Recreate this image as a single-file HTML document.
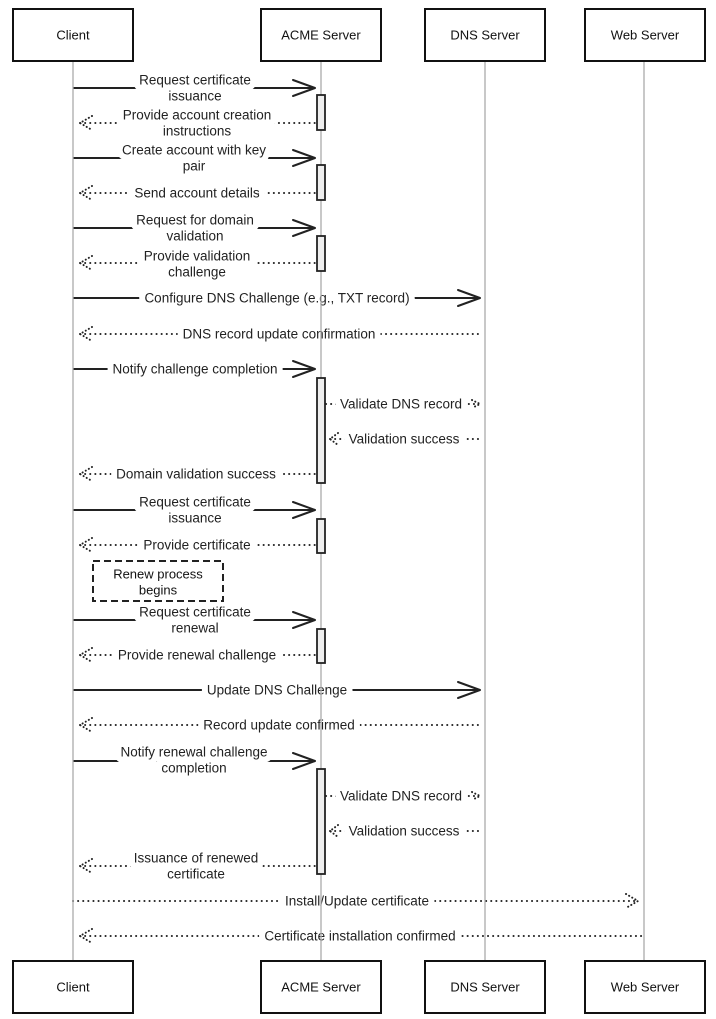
<!DOCTYPE html>
<html><head><meta charset="utf-8"><style>
html,body{margin:0;padding:0;background:#fff;}
svg{display:block}
.l{font-family:"Liberation Sans",sans-serif;font-size:13.5px;fill:#222;stroke:#fff;stroke-width:12;paint-order:stroke;stroke-linejoin:round;text-anchor:middle;dominant-baseline:central}
.a{font-family:"Liberation Sans",sans-serif;font-size:13px;fill:#111;text-anchor:middle;dominant-baseline:central}
.s{stroke:#222;stroke-width:2;fill:none}
.d{stroke:#222;stroke-width:2;fill:none;stroke-dasharray:0.1 5;stroke-linecap:round}
.h{stroke:#222;stroke-width:2;fill:none;stroke-linecap:round;stroke-linejoin:round}
.hd{stroke:#222;stroke-width:2;fill:none;stroke-dasharray:0.1 3.5;stroke-linecap:round}
.ll{stroke:#aaa;stroke-width:1.3}
.act{fill:#eee;stroke:#222;stroke-width:1.8}
.box{fill:#fff;stroke:#111;stroke-width:2}
</style></head><body>
<svg width="716" height="1019" viewBox="0 0 716 1019" xmlns="http://www.w3.org/2000/svg">
<g>
<line class="s" x1="73" y1="88" x2="315" y2="88"/><path class="h" d="M293 80 L315 88 L293 96"/>
<line class="d" x1="80" y1="123" x2="316" y2="123"/><path class="hd" d="M92 116 L80 123 L92 130"/>
<line class="s" x1="73" y1="158" x2="315" y2="158"/><path class="h" d="M293 150 L315 158 L293 166"/>
<line class="d" x1="80" y1="193" x2="316" y2="193"/><path class="hd" d="M92 186 L80 193 L92 200"/>
<line class="s" x1="73" y1="228" x2="315" y2="228"/><path class="h" d="M293 220 L315 228 L293 236"/>
<line class="d" x1="80" y1="263" x2="316" y2="263"/><path class="hd" d="M92 256 L80 263 L92 270"/>
<line class="s" x1="73" y1="298" x2="480" y2="298"/><path class="h" d="M458 290 L480 298 L458 306"/>
<line class="d" x1="80" y1="334" x2="482" y2="334"/><path class="hd" d="M92 327 L80 334 L92 341"/>
<line class="s" x1="73" y1="369" x2="315" y2="369"/><path class="h" d="M293 361 L315 369 L293 377"/>
<line class="d" x1="326" y1="404" x2="478" y2="404"/><path class="hd" d="M472 400 L480 404 L472 408"/>
<line class="d" x1="330" y1="439" x2="482" y2="439"/><path class="hd" d="M338 433 L330 439 L338 445"/>
<line class="d" x1="80" y1="474" x2="316" y2="474"/><path class="hd" d="M92 467 L80 474 L92 481"/>
<line class="s" x1="73" y1="510" x2="315" y2="510"/><path class="h" d="M293 502 L315 510 L293 518"/>
<line class="d" x1="80" y1="545" x2="316" y2="545"/><path class="hd" d="M92 538 L80 545 L92 552"/>
<line class="s" x1="73" y1="620" x2="315" y2="620"/><path class="h" d="M293 612 L315 620 L293 628"/>
<line class="d" x1="80" y1="655" x2="316" y2="655"/><path class="hd" d="M92 648 L80 655 L92 662"/>
<line class="s" x1="73" y1="690" x2="480" y2="690"/><path class="h" d="M458 682 L480 690 L458 698"/>
<line class="d" x1="80" y1="725" x2="482" y2="725"/><path class="hd" d="M92 718 L80 725 L92 732"/>
<line class="s" x1="73" y1="761" x2="315" y2="761"/><path class="h" d="M293 753 L315 761 L293 769"/>
<line class="d" x1="326" y1="796" x2="478" y2="796"/><path class="hd" d="M472 792 L480 796 L472 800"/>
<line class="d" x1="330" y1="831" x2="482" y2="831"/><path class="hd" d="M338 825 L330 831 L338 837"/>
<line class="d" x1="80" y1="866" x2="316" y2="866"/><path class="hd" d="M92 859 L80 866 L92 873"/>
<line class="d" x1="73" y1="901" x2="638" y2="901"/><path class="hd" d="M626 894 L638 901 L626 908"/>
<line class="d" x1="80" y1="936" x2="644" y2="936"/><path class="hd" d="M92 929 L80 936 L92 943"/>
</g>
<g>
<text class="l" x="195" y="80">Request certificate</text><text class="l" x="195" y="96">issuance</text>
<text class="l" x="197" y="115">Provide account creation</text><text class="l" x="197" y="131">instructions</text>
<text class="l" x="194" y="150">Create account with key</text><text class="l" x="194" y="166">pair</text>
<text class="l" x="197" y="193">Send account details</text>
<text class="l" x="195" y="220">Request for domain</text><text class="l" x="195" y="236">validation</text>
<text class="l" x="197" y="256">Provide validation</text><text class="l" x="197" y="272">challenge</text>
<text class="l" x="277" y="298">Configure DNS Challenge (e.g., TXT record)</text>
<text class="l" x="279" y="334">DNS record update confirmation</text>
<text class="l" x="195" y="369">Notify challenge completion</text>
<text class="l" x="401" y="404">Validate DNS record</text>
<text class="l" x="404" y="439">Validation success</text>
<text class="l" x="196" y="474">Domain validation success</text>
<text class="l" x="195" y="502">Request certificate</text><text class="l" x="195" y="518">issuance</text>
<text class="l" x="197" y="545">Provide certificate</text>
<text class="l" x="195" y="612">Request certificate</text><text class="l" x="195" y="628">renewal</text>
<text class="l" x="197" y="655">Provide renewal challenge</text>
<text class="l" x="277" y="690">Update DNS Challenge</text>
<text class="l" x="279" y="725">Record update confirmed</text>
<text class="l" x="194" y="752">Notify renewal challenge</text><text class="l" x="194" y="768">completion</text>
<text class="l" x="401" y="796">Validate DNS record</text>
<text class="l" x="404" y="831">Validation success</text>
<text class="l" x="196" y="858">Issuance of renewed</text><text class="l" x="196" y="874">certificate</text>
<text class="l" x="357" y="901">Install/Update certificate</text>
<text class="l" x="360" y="936">Certificate installation confirmed</text>
</g>
<line class="ll" x1="73" y1="61" x2="73" y2="961"/>
<line class="ll" x1="321" y1="61" x2="321" y2="961"/>
<line class="ll" x1="485" y1="61" x2="485" y2="961"/>
<line class="ll" x1="644" y1="61" x2="644" y2="961"/>
<rect class="act" x="317" y="95" width="8" height="35"/>
<rect class="act" x="317" y="165" width="8" height="35"/>
<rect class="act" x="317" y="236" width="8" height="35"/>
<rect class="act" x="317" y="378" width="8" height="105"/>
<rect class="act" x="317" y="519" width="8" height="34"/>
<rect class="act" x="317" y="629" width="8" height="34"/>
<rect class="act" x="317" y="769" width="8" height="105"/>
<rect x="93" y="561" width="130" height="40" fill="#fff" stroke="#222" stroke-width="2" stroke-dasharray="7 4"/>
<text class="a" x="158" y="574">Renew process</text><text class="a" x="158" y="590">begins</text>
<rect class="box" x="13" y="9" width="120" height="52"/><text class="a" x="73" y="35">Client</text>
<rect class="box" x="261" y="9" width="120" height="52"/><text class="a" x="321" y="35">ACME Server</text>
<rect class="box" x="425" y="9" width="120" height="52"/><text class="a" x="485" y="35">DNS Server</text>
<rect class="box" x="585" y="9" width="120" height="52"/><text class="a" x="645" y="35">Web Server</text>
<rect class="box" x="13" y="961" width="120" height="52"/><text class="a" x="73" y="987">Client</text>
<rect class="box" x="261" y="961" width="120" height="52"/><text class="a" x="321" y="987">ACME Server</text>
<rect class="box" x="425" y="961" width="120" height="52"/><text class="a" x="485" y="987">DNS Server</text>
<rect class="box" x="585" y="961" width="120" height="52"/><text class="a" x="645" y="987">Web Server</text>
</svg>
</body></html>
